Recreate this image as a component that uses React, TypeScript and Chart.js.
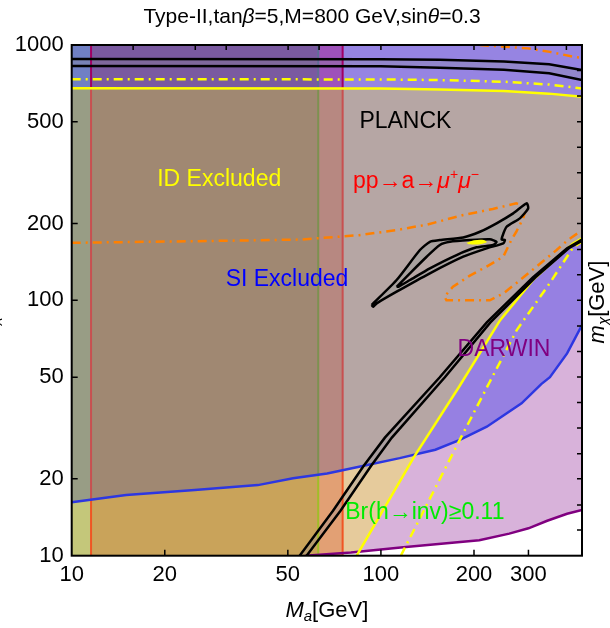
import React, { useEffect, useRef } from 'react';
import { Chart, registerables } from 'chart.js';
Chart.register(...registerables);

const FONT = '"Liberation Sans", Arial, Helvetica, sans-serif';

// ---- axes ----
const X_MIN = 10, X_MAX = 447, Y_MIN = 10, Y_MAX = 1000;
const xTickValues = [10, 20, 50, 100, 200, 300];
const yTickValues = [10, 20, 50, 100, 200, 500, 1000];
const topTickValues = [15.8, 25.1, 31.6, 50.1, 63.1, 100, 200, 251, 316, 398];
const rightTickValues = [12.6, 15.8, 20, 25.1, 31.6, 39.8, 50.1, 63.1, 79.4, 100, 126, 158, 200, 251, 316, 398, 501, 631, 794];

// ---- vertical exclusion edges (M_a) ----
const ppLowX = 11.55;
const brInvX = 62.7;
const ppHighX = 75.2;

// ---- SI excluded boundary (blue) ----
const siX = [10, 15, 25, 40, 52, 67, 85, 115, 150, 180, 220, 285, 330, 352, 400, 447];
const siY = [16.2, 17.3, 18.1, 18.9, 20.1, 21, 22.3, 24.1, 26, 28.4, 32, 39.5, 47, 50, 62, 80];

// ---- DARWIN (purple) ----
const darwinX = [57, 80, 118, 208, 260, 300, 345, 400, 447];
const darwinY = [10, 10.3, 10.8, 11.5, 12.2, 12.8, 13.7, 14.6, 15.1];

// ---- ID excluded (yellow) ----
const idTopX = [10, 100, 155, 250, 350, 447];
const idTopY = [677, 675, 670, 660, 645, 627];
const idTopDashY = [735, 733, 729, 718, 700, 676];
const idLowX = [83.5, 128, 179, 243, 310, 418, 447];
const idLowY = [10, 24.4, 45.9, 83.6, 120, 167, 175];
const idLowDashX = [116, 176, 225, 275, 352, 418, 447];
const idLowDashY = [10, 27, 48, 76.5, 117, 161, 170];

// ---- PLANCK relic contours (black) ----
const relicTopX = [10, 100, 155, 250, 350, 447];
const relicTop1Y = [882, 880, 876, 862, 840, 798];
const relicTop2Y = [828, 826, 815, 800, 775, 729];
const relicLow1X = [54.6, 70, 88, 103, 155, 220, 310, 400, 447];
const relicLow1Y = [10, 15, 22.5, 29, 50, 82, 123, 160, 173];
const relicLow2X = [57.5, 74, 93, 108.5, 161, 226, 316, 405, 447];
const relicLow2Y = [10, 15, 22.5, 29, 50, 82, 123, 160, 171];
const islandOuterX = [93.3, 112.4, 133.7, 144, 155.1, 184.6, 209, 236.6, 267.8, 295.9, 299.5, 281.4, 255, 245.6, 251.8, 248.7, 219.7, 184.6, 144, 112.4, 96.9, 94.4];
const islandOuterY = [95.9, 120.1, 157.4, 169.6, 172.2, 176.4, 185.6, 200.3, 219.1, 239.8, 229.2, 209.5, 194.2, 173.3, 172.2, 167.2, 159.8, 148.2, 127.6, 108.1, 97.3, 94.4];
const islandInnerX = [112.4, 124.1, 140.6, 155.1, 167.1, 194.1, 225, 236.6, 230.7, 203.9, 175.7, 144, 124.1, 113.8];
const islandInnerY = [113, 127.6, 148.2, 164.7, 169.6, 172.2, 173.4, 169.6, 164.7, 161.3, 150.5, 133.5, 120.1, 113];
const blobX = [189, 200, 215, 220, 205, 192];
const blobY = [168, 172, 172.5, 169, 165.5, 166];

// ---- pp -> a -> mu mu (orange dash-dot) ----
const muMidX = [10, 30, 55, 85, 112.4, 141, 184.6, 230, 274, 296, 288.4, 274, 264, 248.7, 219.7, 194, 171, 160.5, 162.9, 225, 248.7, 281.4, 318.5, 370, 402, 447];
const muMidY = [168, 171, 173, 180, 188.5, 198, 215.8, 228, 239.8, 233, 209.5, 185.6, 172.2, 148.2, 135.6, 125, 113, 103.4, 100, 100, 106.4, 119.8, 135.6, 157.4, 172.2, 188];
const muTopX = [209, 299, 352, 418, 447];
const muTopY = [1000, 970, 940, 900, 890];

// ---- text annotations (data coordinates) ----
const noteX = [120, 30, 129.8, 49.7, 250, 138.7];
const noteY = [499, 298, 290.6, 120, 63.9, 14.8];

type P = { x: number; y: number };
const zip = (xs: number[], ys: number[]): P[] => xs.map((x, i) => ({ x, y: ys[i] }));
const L = Math.log10;
function yAt(c: P[], x: number): number {
  if (x <= c[0].x) return c[0].y;
  for (let i = 0; i < c.length - 1; i++) {
    const a = c[i], b = c[i + 1];
    if (x <= b.x) {
      const t = (L(x) - L(a.x)) / (L(b.x) - L(a.x));
      return Math.pow(10, L(a.y) + t * (L(b.y) - L(a.y)));
    }
  }
  return c[c.length - 1].y;
}
function seg(c: P[], x0: number, x1: number): P[] {
  return [{ x: x0, y: yAt(c, x0) }, ...c.filter((p) => p.x > x0 && p.x < x1), { x: x1, y: yAt(c, x1) }];
}
function cross(a: P[], b: P[], lo: number, hi: number): number {
  const f = (x: number) => L(yAt(a, x)) - L(yAt(b, x));
  let flo = f(lo);
  for (let i = 0; i < 60; i++) {
    const m = Math.sqrt(lo * hi);
    const fm = f(m);
    if (fm > 0 === flo > 0) { lo = m; flo = fm; } else hi = m;
  }
  return Math.sqrt(lo * hi);
}

function buildDatasets() {
  const si = zip(siX, siY);
  const darwin = zip(darwinX, darwinY);
  const idTop = zip(idTopX, idTopY);
  const idTopDash = zip(idTopX, idTopDashY);
  const idLow = zip(idLowX, idLowY);
  const idLowDash = zip(idLowDashX, idLowDashY);
  const rt1 = zip(relicTopX, relicTop1Y);
  const rt2 = zip(relicTopX, relicTop2Y);
  const rl1 = zip(relicLow1X, relicLow1Y);
  const rl2 = zip(relicLow2X, relicLow2Y);
  const bottom = [{ x: X_MIN, y: Y_MIN }, { x: X_MAX, y: Y_MIN }];
  const top = [{ x: X_MIN, y: Y_MAX }, { x: X_MAX, y: Y_MAX }];
  const rect = (x0: number, x1: number, lo: P[], hi: P[]) => [...seg(lo, x0, x1), ...seg(hi, x0, x1).reverse()];
  const xi = cross(idLow, si, idLowX[0], X_MAX);

  const layers: any[] = [];
  const poly = (data: P[], color: string, extra: any = {}) =>
    layers.push({ data, backgroundColor: color, borderColor: 'rgba(0,0,0,0)', borderWidth: 0, fill: 'shape', ...extra });
  const line = (data: P[], color: string, width: number, extra: any = {}) =>
    layers.push({ data, borderColor: color, borderWidth: width, fill: false, ...extra });

  // band D (right of pp upper edge)
  poly(rect(ppHighX, X_MAX, bottom, si), 'rgb(216,178,218)');
  poly([{ x: ppHighX, y: Y_MIN }, ...seg(idLow, idLowX[0], xi), ...seg(si, ppHighX, xi).reverse()], 'rgb(230,203,156)');
  poly([...seg(darwin, ppHighX, X_MAX), { x: X_MAX, y: Y_MIN }, { x: ppHighX, y: Y_MIN }], 'rgb(255,255,255)');
  poly(rect(ppHighX, X_MAX, si, idTop), 'rgb(150,128,226)');
  poly([...seg(si, ppHighX, xi), ...seg(idLow, xi, X_MAX), ...seg(idTop, ppHighX, X_MAX).reverse()], 'rgb(182,166,164)');
  poly(rect(ppHighX, X_MAX, idTop, top), 'rgb(150,132,226)');

  // vertical bands
  const bands: [number, number, string[]][] = [
    [X_MIN, ppLowX, ['rgb(196,199,122)', 'rgb(152,157,133)', 'rgb(112,128,196)']],
    [ppLowX, brInvX, ['rgb(201,163,90)', 'rgb(160,136,114)', 'rgb(122,90,160)']],
    [brInvX, ppHighX, ['rgb(226,160,116)', 'rgb(183,136,129)', 'rgb(158,82,186)']],
  ];
  for (const [x0, x1, c] of bands) {
    poly(rect(x0, x1, bottom, si), c[0]);
    poly(rect(x0, x1, si, idTop), c[1]);
    poly(rect(x0, x1, idTop, top), c[2]);
  }

  // relic bands (gray tint between black contours)
  poly([...rt1, ...[...rt2].reverse()], 'rgba(140,140,150,0.3)');
  poly([...rl1, ...[...rl2].reverse()], 'rgba(140,140,150,0.3)');

  // vertical lines (segmented)
  const vlines: [number, string[]][] = [
    [ppLowX, ['rgb(240,85,35)', 'rgb(200,80,80)', 'rgb(160,0,100)']],
    [brInvX, ['rgb(160,190,40)', 'rgb(125,145,80)', 'rgb(95,110,150)']],
    [ppHighX, ['rgb(240,85,35)', 'rgb(200,80,80)', 'rgb(160,0,100)']],
  ];
  for (const [vx, c] of vlines) {
    const ys = [Y_MIN, yAt(si, vx), yAt(idTop, vx), Y_MAX];
    for (let k = 0; k < 3; k++) line([{ x: vx, y: ys[k] }, { x: vx, y: ys[k + 1] }], c[k], 2);
  }

  // curves
  line(si, 'rgb(45,55,225)', 2.5);
  line(darwin, 'rgb(128,0,128)', 2.5);
  line(idLow, 'rgb(255,255,0)', 2.5);
  line(idTop, 'rgb(255,255,0)', 2.5);
  line(idLowDash, 'rgb(255,255,0)', 2.5, { borderDash: [9, 5, 2, 5] });
  line(idTopDash, 'rgb(255,255,0)', 2.5, { borderDash: [9, 5, 2, 5] });
  line(zip(muMidX, muMidY), 'rgb(255,128,0)', 2.5, { borderDash: [9, 5, 2, 5] });
  line(zip(muTopX, muTopY), 'rgb(255,128,0)', 2.5, { borderDash: [9, 5, 2, 5] });

  // island (relic contour with filled band)
  const outer = zip(islandOuterX, islandOuterY);
  const inner = zip(islandInnerX, islandInnerY);
  poly([...outer, outer[0]], 'rgb(168,161,159)', { borderColor: '#000', borderWidth: 2.5, tension: 0.2 });
  poly([...inner, inner[0]], 'rgb(182,166,164)', { borderColor: '#000', borderWidth: 2.5, tension: 0.2 });
  poly(zip(blobX, blobY), 'rgb(255,255,0)', { tension: 0.3 });

  // black relic lines
  line(rt1, '#000', 2.5);
  line(rt2, '#000', 2.5);
  line(rl1, '#000', 2.5);
  line(rl2, '#000', 2.5);

  const n = layers.length;
  return layers.map((d, i) => ({ pointRadius: 0, tension: 0, order: n - i, ...d }));
}

type Run = { t: string; italic?: boolean; size?: number; dy?: number };
function drawRuns(ctx: CanvasRenderingContext2D, runs: Run[], cx: number, cy: number, base: number, color: string) {
  const f = (r: Run) => `${r.italic ? 'italic ' : ''}${r.size ?? base}px ${FONT}`;
  let w = 0;
  for (const r of runs) { ctx.font = f(r); w += ctx.measureText(r.t).width; }
  let x = cx - w / 2;
  ctx.fillStyle = color;
  ctx.textBaseline = 'middle';
  ctx.textAlign = 'left';
  for (const r of runs) {
    ctx.font = f(r);
    ctx.fillText(r.t, x, cy + (r.dy ?? 0));
    x += ctx.measureText(r.t).width;
  }
}

const overlay = {
  id: 'overlay',
  afterDraw(chart: any) {
    const { ctx, chartArea: a, scales } = chart;
    const xs = scales.x, ys = scales.y;
    ctx.save();
    // annotations
    const notes: [Run[], string][] = [
      [[{ t: 'PLANCK' }], '#000'],
      [[{ t: 'ID Excluded' }], 'rgb(255,255,0)'],
      [[{ t: 'pp→a→' }, { t: 'μ', italic: true }, { t: '+', size: 14, dy: -7 }, { t: 'μ', italic: true }, { t: '−', size: 14, dy: -7 }], 'rgb(255,0,0)'],
      [[{ t: 'SI Excluded' }], 'rgb(0,0,255)'],
      [[{ t: 'DARWIN' }], 'rgb(128,0,128)'],
      [[{ t: 'Br(h→inv)≥0.11' }], 'rgb(0,235,0)'],
    ];
    notes.forEach(([runs, color], i) => {
      drawRuns(ctx, runs, xs.getPixelForValue(noteX[i]), ys.getPixelForValue(noteY[i]), 23, color);
    });
    // frame
    ctx.strokeStyle = '#000';
    ctx.lineWidth = 2;
    ctx.strokeRect(a.left, a.top, a.right - a.left, a.bottom - a.top);
    ctx.lineWidth = 1.5;
    ctx.beginPath();
    for (const v of xTickValues) {
      const p = xs.getPixelForValue(v);
      if (p > a.left + 2 && p < a.right - 2) { ctx.moveTo(p, a.bottom); ctx.lineTo(p, a.bottom - 6); }
    }
    for (const v of yTickValues) {
      const p = ys.getPixelForValue(v);
      if (p > a.top + 2 && p < a.bottom - 2) { ctx.moveTo(a.left, p); ctx.lineTo(a.left + 6, p); }
    }
    for (const v of topTickValues) {
      const p = xs.getPixelForValue(v);
      ctx.moveTo(p, a.top); ctx.lineTo(p, a.top + 5);
    }
    for (const v of rightTickValues) {
      const p = ys.getPixelForValue(v);
      ctx.moveTo(a.right, p); ctx.lineTo(a.right - 5, p);
    }
    ctx.stroke();
    // title
    drawRuns(ctx, [{ t: 'Type-II,tan' }, { t: 'β', italic: true }, { t: '=5,M=800 GeV,sin' }, { t: 'θ', italic: true }, { t: '=0.3' }], 312, 17, 21, '#000');
    // x axis title
    drawRuns(ctx, [{ t: 'M', italic: true }, { t: 'a', italic: true, size: 15, dy: 6 }, { t: '[GeV]' }], (a.left + a.right) / 2, 611, 22, '#000');
    // right and (clipped) left axis titles
    for (const tx of [598, -11]) {
      ctx.save();
      ctx.translate(tx, 302);
      ctx.rotate(-Math.PI / 2);
      drawRuns(ctx, [{ t: 'm', italic: true }, { t: 'χ', italic: true, size: 15, dy: 6 }, { t: '[GeV]' }], 0, 0, 22, '#000');
      ctx.restore();
    }
    ctx.restore();
  },
};

export default function App() {
  const ref = useRef<HTMLCanvasElement>(null);
  useEffect(() => {
    const tickFont = { family: FONT, size: 22 };
    const chart = new Chart(ref.current as HTMLCanvasElement, {
      type: 'line',
      data: { datasets: buildDatasets() as any },
      options: {
        responsive: false,
        animation: false,
        events: [],
        layout: { padding: { left: 0, top: 45, right: 28, bottom: 0 } },
        plugins: { legend: { display: false }, tooltip: { enabled: false }, title: { display: false } },
        scales: {
          x: {
            type: 'logarithmic',
            min: X_MIN,
            max: X_MAX,
            grid: { display: false, drawTicks: false },
            border: { display: false },
            afterBuildTicks: (s: any) => { s.ticks = xTickValues.map((v) => ({ value: v })); },
            afterFit: (s: any) => { s.height = 628 - 555.7; },
            ticks: { autoSkip: false, maxRotation: 0, padding: 6, color: '#000', font: tickFont, callback: (v: any) => String(v) },
          },
          y: {
            type: 'logarithmic',
            min: Y_MIN,
            max: Y_MAX,
            grid: { display: false, drawTicks: false },
            border: { display: false },
            afterBuildTicks: (s: any) => { s.ticks = yTickValues.map((v) => ({ value: v })); },
            afterFit: (s: any) => { s.width = 71.7; },
            ticks: { autoSkip: false, padding: 8, color: '#000', font: tickFont, callback: (v: any) => String(v) },
          },
        },
      } as any,
      plugins: [overlay],
    });
    return () => chart.destroy();
  }, []);
  return (
    <div style={{ position: 'fixed', left: 0, top: 0, width: 610, height: 628, background: '#fff' }}>
      <canvas ref={ref} width={610} height={628} style={{ width: 610, height: 628, display: 'block' }} />
    </div>
  );
}
